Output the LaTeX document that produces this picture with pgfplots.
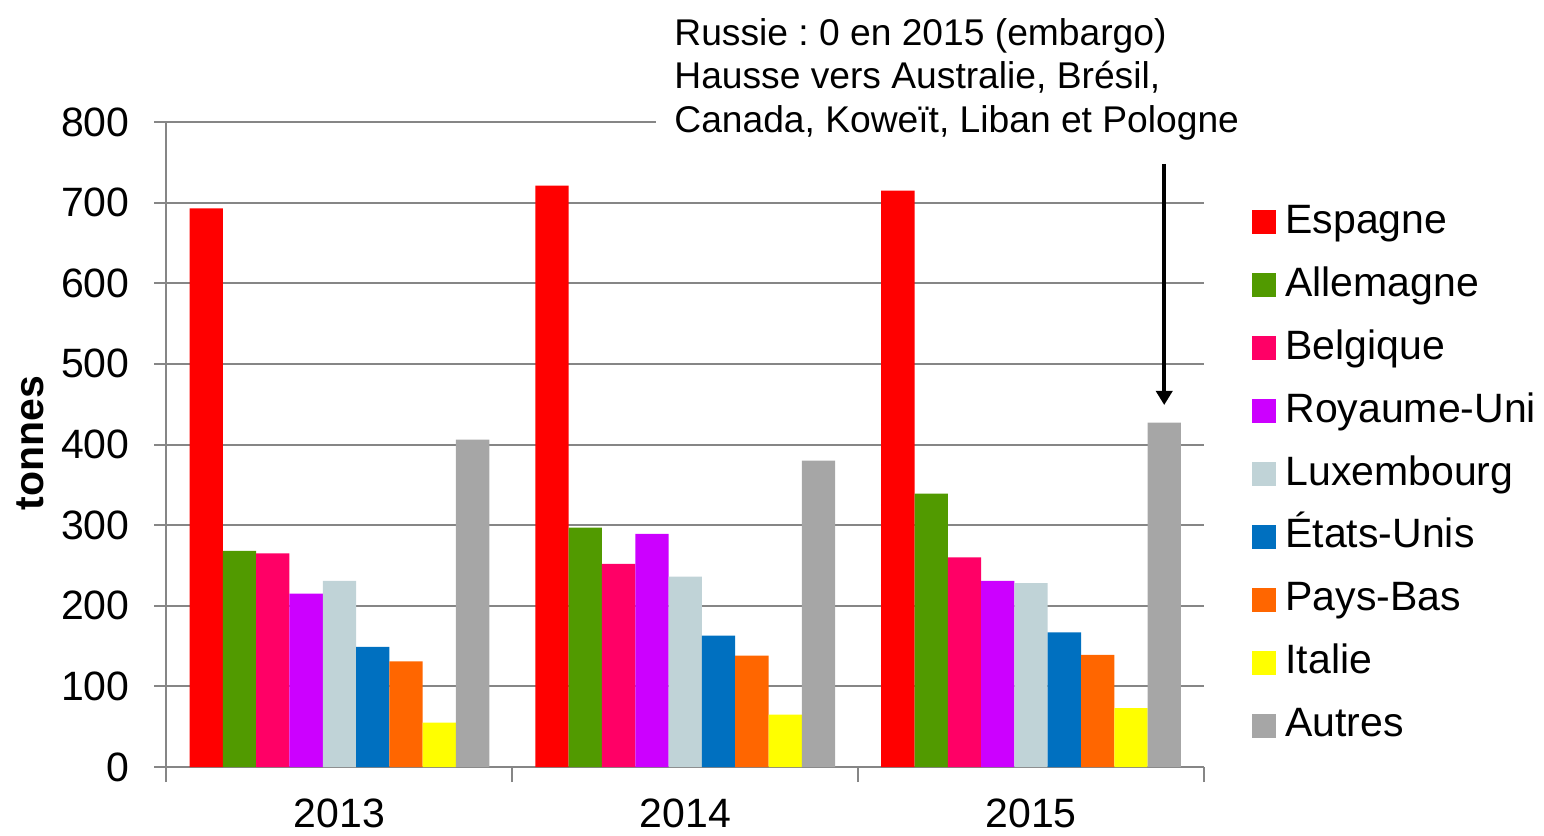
\documentclass[border=0pt]{standalone}
\usepackage{pgfplots}
\pgfplotsset{compat=1.18}
\usetikzlibrary{arrows.meta}
\usepackage{fontspec}
\setmainfont{Liberation Sans}
\frenchspacing

\definecolor{cEsp}{HTML}{FF0000}
\definecolor{cAll}{HTML}{519A00}
\definecolor{cBel}{HTML}{FF0066}
\definecolor{cRU}{HTML}{CC00FF}
\definecolor{cLux}{HTML}{C0D3D7}
\definecolor{cEU}{HTML}{0070C0}
\definecolor{cPB}{HTML}{FF6600}
\definecolor{cIta}{HTML}{FFFF00}
\definecolor{cAut}{HTML}{A6A6A6}
\definecolor{gridgrey}{HTML}{868686}

\begin{document}
\begin{tikzpicture}
\begin{axis}[
    at={(0,0)}, anchor=south west,
    scale only axis, width=518.75pt, height=322.5pt,
    ybar=0pt, bar width=0.0963,
    xmin=-0.5, xmax=2.5, ymin=0, ymax=800,
    xtick={0,1,2}, xticklabels={2013,2014,2015},
    minor xtick={-0.5,0.5,1.5,2.5},
    ytick={0,100,...,800},
    axis x line*=bottom, axis y line*=left,
    axis line style={gridgrey, line width=1pt},
    tick style={gridgrey, line width=1pt},
    tick align=outside,
    major x tick style={draw=none},
    minor tick length=7.5pt, major tick length=6pt,
    ymajorgrids, major grid style={gridgrey, line width=1pt},
    /pgf/number format/assume math mode=true,
    ticklabel style={font=\fontsize{20.5}{24}\selectfont},
    yticklabel style={anchor=east, inner sep=0pt, xshift=-12.25pt},
    xticklabel style={anchor=north, inner sep=0pt, yshift=-9.5pt},
    ylabel={tonnes},
    ylabel style={at={(rel axis cs:-0.1316,0.5023)}, anchor=center,
        font=\fontsize{20.5}{24}\selectfont\bfseries},
    clip=false,
    legend cell align=left,
    legend image code/.code={
        \fill[#1,draw=none] (0pt,-6pt) rectangle (12pt,6pt);
        \path (16.5pt,0pt);},
    legend style={draw=none, fill=none, inner sep=0pt,
        at={(rel axis cs:1.0463,0.8744)}, anchor=north west,
        font=\fontsize{20.5}{24}\selectfont,
        row sep=12.45pt,
        nodes={inner sep=0pt, text height=15pt, text depth=4pt}},
]
\addplot[fill=cEsp, draw=none] coordinates {(0,693) (1,721) (2,715)};
\addplot[fill=cAll, draw=none] coordinates {(0,268) (1,297) (2,339)};
\addplot[fill=cBel, draw=none] coordinates {(0,265) (1,252) (2,260)};
\addplot[fill=cRU,  draw=none] coordinates {(0,215) (1,289) (2,231)};
\addplot[fill=cLux, draw=none] coordinates {(0,231) (1,236) (2,228)};
\addplot[fill=cEU,  draw=none] coordinates {(0,149) (1,163) (2,167)};
\addplot[fill=cPB,  draw=none] coordinates {(0,131) (1,138) (2,139)};
\addplot[fill=cIta, draw=none] coordinates {(0,55) (1,65) (2,73)};
\addplot[fill=cAut, draw=none] coordinates {(0,406) (1,380) (2,427)};
\legend{Espagne, Allemagne, Belgique, Royaume-Uni, Luxembourg, États-Unis, Pays-Bas, Italie, Autres}

% annotation box hides the end of the 800 grid line
\node[anchor=north west, fill=white, inner xsep=9pt, inner ysep=2pt, align=left,
      font=\fontsize{18.6}{21.75}\selectfont]
    at (rel axis cs:0.4718,1.1674)
    {Russie : 0 en 2015 (embargo)\\Hausse vers Australie, Brésil,\\Canada, Koweït, Liban et Pologne};
\draw[line width=2pt, -{Triangle[width=8pt,length=7pt]}] (axis cs:2.385,748) -- (axis cs:2.385,449);
\end{axis}
\pgfresetboundingbox
\path[use as bounding box] (-83.25pt,-34.5pt) rectangle (688.75pt,383.5pt);
\end{tikzpicture}
\end{document}
